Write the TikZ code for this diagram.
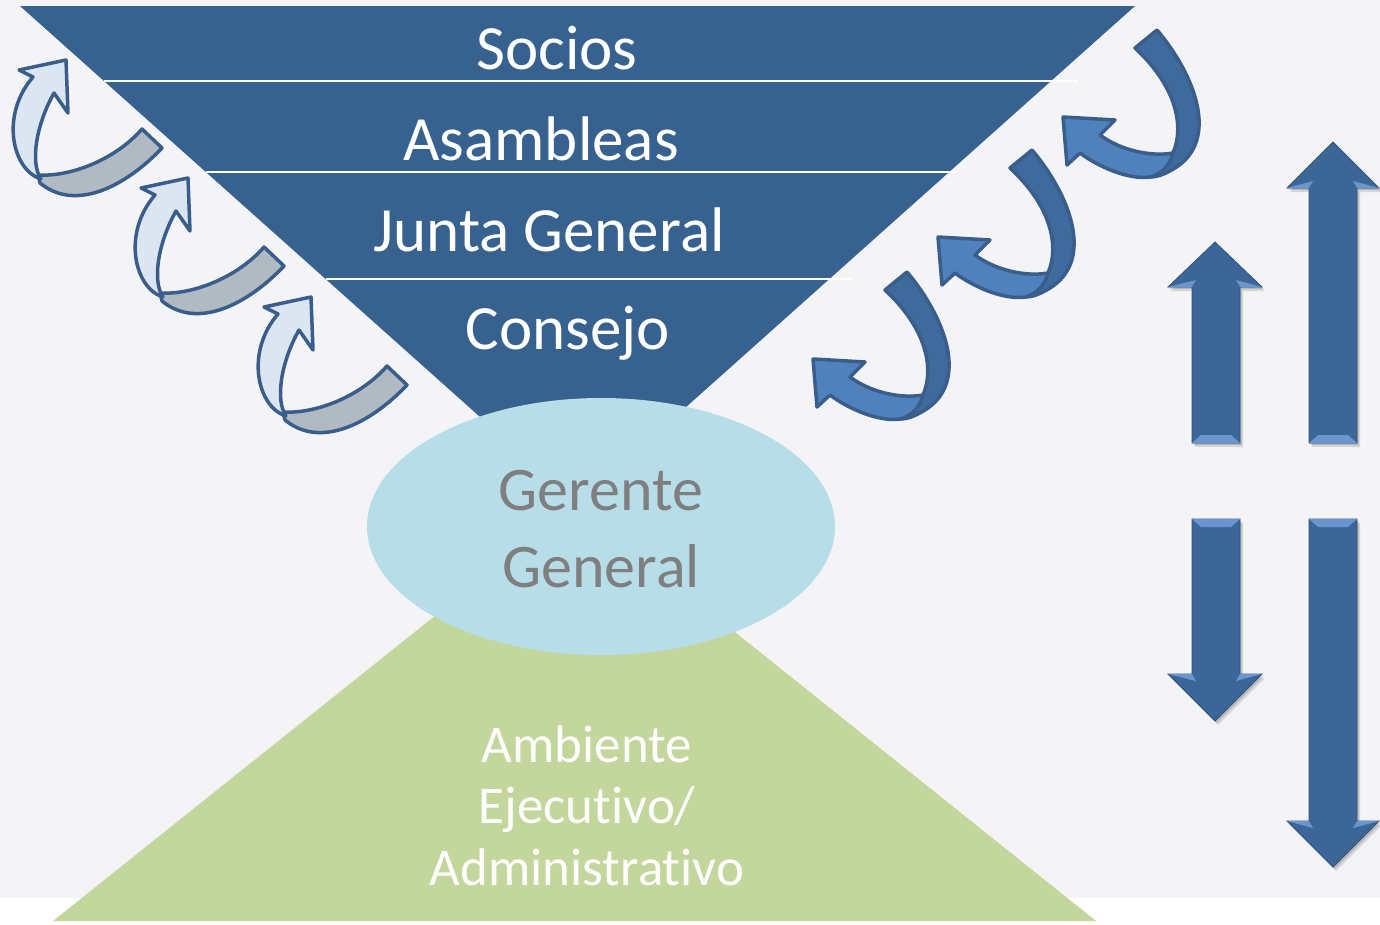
\documentclass[tikz,border=0pt]{standalone}
\usepackage{fontspec}
\setmainfont{Carlito}[Ligatures=NoCommon]
\definecolor{bggrey}{HTML}{F4F4F7}
\definecolor{triblue}{HTML}{37618F}
\definecolor{ellblue}{HTML}{B7DEE8}
\definecolor{greenfill}{HTML}{C3D69B}
\definecolor{gertext}{HTML}{7F7F7F}
\definecolor{arrblue}{HTML}{3C6697}
\definecolor{arrhi}{HTML}{6A96D0}
\definecolor{arredge}{HTML}{2E5283}
\definecolor{lightband}{HTML}{DCE6F2}
\definecolor{greyband}{HTML}{B1B9C3}
\definecolor{outline}{HTML}{3A5E8C}
\definecolor{frontband}{HTML}{4F81BD}
\definecolor{backband}{HTML}{3F6A9D}
\newcommand{\ArrUp}[8]{% x1 x2 hx1 hx2 cx tip hb bottom
  \fill[black,opacity=0.12,shift={(3,4)}] (#1,#8) -- (#1,#7) -- (#3,#7) -- (#5,#6) -- (#4,#7) -- (#2,#7) -- (#2,#8) -- cycle;
  \fill[black,opacity=0.15,shift={(1.5,2)}] (#1,#8) -- (#1,#7) -- (#3,#7) -- (#5,#6) -- (#4,#7) -- (#2,#7) -- (#2,#8) -- cycle;
  \fill[arrblue,draw=arredge,line width=0.8] (#1,#8) -- (#1,#7) -- (#3,#7) -- (#5,#6) -- (#4,#7) -- (#2,#7) -- (#2,#8) -- cycle;
  \fill[arrhi] (#3,#7) -- (#1,#7) -- (#1+4,#7-7) -- cycle;
  \fill[arrhi] (#4,#7) -- (#2,#7) -- (#2-4,#7-7) -- cycle;
  \fill[arrhi] (#1,#8) -- (#2,#8) -- (#2-9,#8-8) -- (#1+9,#8-8) -- cycle;
}
\newcommand{\ArrDown}[8]{% x1 x2 hx1 hx2 cx tip hb top
  \fill[black,opacity=0.12,shift={(3,4)}] (#1,#8) -- (#1,#7) -- (#3,#7) -- (#5,#6) -- (#4,#7) -- (#2,#7) -- (#2,#8) -- cycle;
  \fill[black,opacity=0.15,shift={(1.5,2)}] (#1,#8) -- (#1,#7) -- (#3,#7) -- (#5,#6) -- (#4,#7) -- (#2,#7) -- (#2,#8) -- cycle;
  \fill[arrblue,draw=arredge,line width=0.8] (#1,#8) -- (#1,#7) -- (#3,#7) -- (#5,#6) -- (#4,#7) -- (#2,#7) -- (#2,#8) -- cycle;
  \fill[arrhi] (#3,#7) -- (#1,#7) -- (#1+4,#7+7) -- cycle;
  \fill[arrhi] (#4,#7) -- (#2,#7) -- (#2-4,#7+7) -- cycle;
  \fill[arrhi] (#1,#8) -- (#2,#8) -- (#2-9,#8+8) -- (#1+9,#8+8) -- cycle;
}
\tikzset{
  toptext/.style={text=white,font=\fontsize{63}{70}\selectfont,anchor=base,inner sep=0pt},
  gertxt/.style={text=gertext,font=\fontsize{62}{70}\selectfont,anchor=base,inner sep=0pt},
  grntxt/.style={text=white,font=\fontsize{53}{60}\selectfont,anchor=base,inner sep=0pt},
  sepline/.style={draw=white,line width=1.5pt},
  leftband/.style={draw=outline,line width=3.5pt,line join=round},
  rightband/.style={draw=outline,line width=3.5pt,line join=round},
}
\begin{document}
\begin{tikzpicture}[x=1pt,y=-1pt]
\useasboundingbox (0,0) rectangle (1380,924);
\fill[white] (0,0) rectangle (1380,924);
\fill[bggrey] (0,0) rectangle (1380,898);
% green lower triangle
\fill[greenfill] (53,921) -- (1096,921) -- (575,504) -- cycle;
% blue inverted triangle
\fill[triblue] (20,6) -- (1135,6) -- (577.5,504) -- cycle;
\draw[sepline] (104,81) -- (1078,81);
\draw[sepline] (206,172) -- (957,172);
\draw[sepline] (326,279) -- (852,279);
\node[toptext] (socios) at (557,69) {Socios};
\node[toptext] (asambleas) at (541,160) {Asambleas};
\node[toptext] (junta) at (549,251) {Junta General};
\node[toptext] (consejo) at (568,349) {Consejo};
% ellipse
\fill[ellblue] (601,526.5) ellipse [x radius=234, y radius=128.5];
\node[gertxt] (gerente) at (601,510) {Gerente};
\node[gertxt] (general) at (601,587) {General};
% green text
\node[grntxt] (ambiente) at (587,762) {Ambiente};
\node[grntxt] (ejecutivo) at (587,823) {Ejecutivo/};
\node[grntxt] (admin) at (587,885) {Administrativo};
% left curved arrows
\foreach \dx/\dy in {0/0,122/118,245/237}{
  \begin{scope}[shift={(\dx,\dy)}]
    \filldraw[leftband,fill=greyband] (38,175) .. controls (70,177) and (115,160) .. (142,129) -- (162,148) .. controls (125,187) and (75,212) .. (40,183) -- cycle;
    \filldraw[leftband,fill=lightband] (19,70) -- (66,60) -- (68,113) -- (54,93) .. controls (36,125) and (30,163) .. (41,179) .. controls (12,170) and (0,115) .. (33,77) -- cycle;
  \end{scope}
}
% right curved arrows
\foreach \dx/\dy in {0/0,-125/120,-250/242}{
  \begin{scope}[shift={(\dx,\dy)}]
    \filldraw[rightband,fill=backband] (1135,48) -- (1157,30) .. controls (1195,75) and (1220,140) .. (1175,168) .. controls (1165,174) and (1158,177) .. (1150,177) -- (1173,153) .. controls (1185,125) and (1175,85) .. (1135,48) -- cycle;
    \filldraw[rightband,fill=frontband] (1173,153) .. controls (1150,157) and (1120,150) .. (1100,135) -- (1115,120) -- (1063,117) -- (1067,165) -- (1080,153) .. controls (1100,168) and (1130,180) .. (1150,177) .. controls (1162,174) and (1170,165) .. (1173,153) -- cycle;
  \end{scope}
}
% straight arrows
\ArrUp{1192}{1240}{1168}{1262}{1215}{242}{287}{443}
\ArrUp{1309}{1357}{1287}{1379}{1333}{142}{188}{443}
\ArrDown{1192}{1240}{1168}{1262}{1215}{721}{674}{519}
\ArrDown{1309}{1357}{1287}{1379}{1333}{867}{821}{519}
\end{tikzpicture}
\end{document}
